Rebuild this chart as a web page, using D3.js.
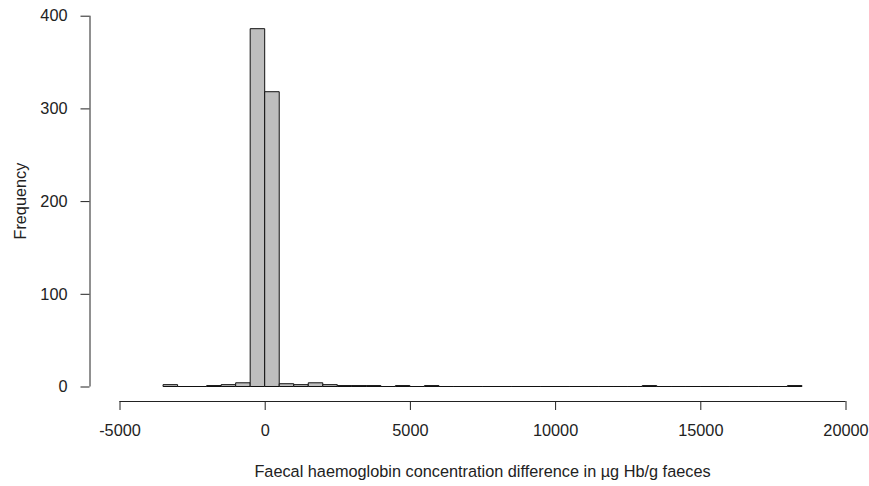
<!DOCTYPE html>
<html>
<head>
<meta charset="utf-8">
<script src="https://cdnjs.cloudflare.com/ajax/libs/d3/7.8.5/d3.min.js"></script>
<style>
  body { margin: 0; background: #fff; }
  text { font-family: "Liberation Sans", Arial, sans-serif; fill: #222; }
</style>
</head>
<body>
<svg width="869" height="486"></svg>
<script>
// histogram bins (start of each 500-wide bin) and counts
var binStart = -3500, binWidth = 500;
var counts = [2, 0, 0, 1, 2, 4, 386, 318, 3, 2, 4, 2, 1, 1, 1, 0, 1, 0, 1,
  0, 0, 0, 0, 0, 0, 0, 0, 0, 0, 0, 0, 0, 0, 1,
  0, 0, 0, 0, 0, 0, 0, 0, 0, 1];
var xTicks = [-5000, 0, 5000, 10000, 15000, 20000];
var yTicks = [0, 100, 200, 300, 400];

var bins = counts.map(function(c, i) {
  return {x0: binStart + i * binWidth, x1: binStart + (i + 1) * binWidth, n: c};
});

var svg = d3.select("svg");

var x = d3.scaleLinear().domain([-5000, 20000]).range([119.5, 845.5]);
var y = d3.scaleLinear().domain([0, 400]).range([386.5, 15.7]);

svg.selectAll(".bar")
  .data(bins).enter()
  .append("path")
  .attr("class", "bar")
  .attr("d", function(d) {
    var l = x(d.x0), r = x(d.x1), t = y(d.n), b = y(0);
    return "M" + l + "," + b + "V" + t + "H" + r + "V" + b + "Z";
  })
  .attr("fill", "#bebebe")
  .attr("stroke", "#111")
  .attr("stroke-width", 1);

var bottomAxis = d3.axisBottom(x).tickValues(xTicks).tickSize(9).tickPadding(14)
  .tickFormat(function(d) { return String(d); });
var leftAxis = d3.axisLeft(y).tickValues(yTicks).tickSize(9).tickPadding(13);

var gx = svg.append("g")
  .attr("transform", "translate(0,401)")
  .call(bottomAxis);
var gy = svg.append("g")
  .attr("transform", "translate(89.5,0)")
  .call(leftAxis);

[gx, gy].forEach(function(g) {
  g.select(".domain").attr("stroke", "#222");
  g.selectAll(".tick line").attr("stroke", "#222");
  g.selectAll(".tick text").style("font-size", "16.3px").attr("fill", "#222");
});
// R style: axis line spans only the first to last tick
gx.select(".domain").attr("d", "M" + x(-5000) + ",0.5H" + x(20000));
gy.select(".domain").attr("d", "M0.5," + y(0) + "V" + y(400));

svg.append("text")
  .attr("text-anchor", "middle")
  .attr("x", (x(-5000) + x(20000)) / 2)
  .attr("y", 476.5)
  .style("font-size", "16.3px")
  .text("Faecal haemoglobin concentration difference in \u00b5g Hb/g faeces");

svg.append("text")
  .attr("text-anchor", "middle")
  .attr("transform", "translate(25.5," + y(200) + ")rotate(-90)")
  .style("font-size", "16.3px")
  .text("Frequency");
</script>
</body>
</html>
